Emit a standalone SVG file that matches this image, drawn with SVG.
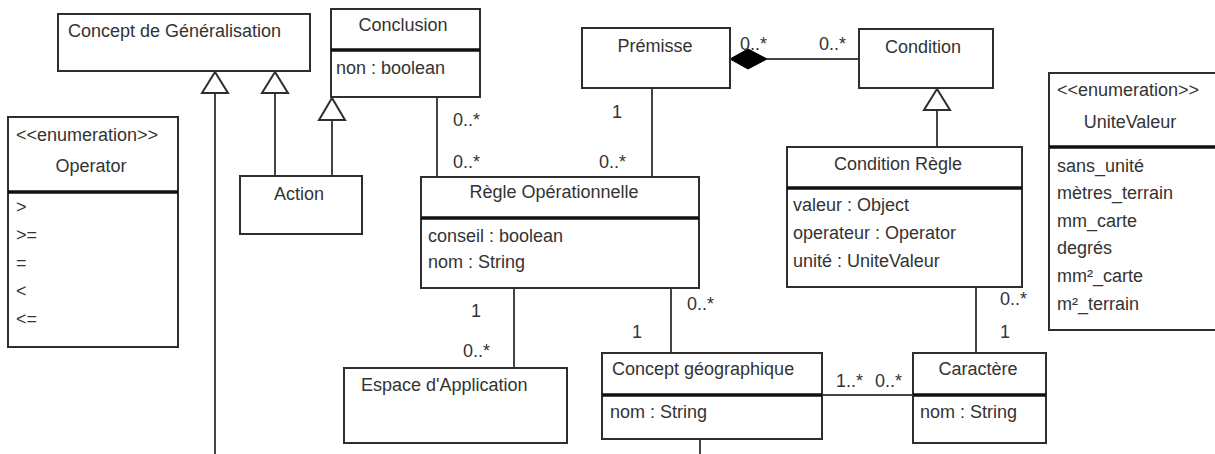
<svg xmlns="http://www.w3.org/2000/svg" width="1215" height="454" viewBox="0 0 1215 454">
<style>
.box{fill:#fff;stroke:#2e2e2e;stroke-width:2}
.div{stroke:#111;stroke-width:3.5}
.ln{stroke:#444;stroke-width:2;fill:none}
.tri{fill:#fff;stroke:#2e2e2e;stroke-width:2}
text{font-family:"Liberation Sans",Arial,sans-serif;font-size:18px;fill:#333}
.c{text-anchor:middle}
</style>
<rect width="1215" height="454" fill="#fff"/>
<g id="connectors">
  <line class="ln" x1="215" y1="93" x2="215" y2="454"/>
  <line class="ln" x1="275" y1="93" x2="275" y2="176"/>
  <line class="ln" x1="332" y1="120" x2="332" y2="176"/>
  <line class="ln" x1="437" y1="97" x2="437" y2="177"/>
  <line class="ln" x1="652" y1="88" x2="652" y2="177"/>
  <line class="ln" x1="767" y1="59" x2="859" y2="59"/>
  <line class="ln" x1="937" y1="110" x2="937" y2="147"/>
  <line class="ln" x1="514" y1="288" x2="514" y2="368"/>
  <line class="ln" x1="671" y1="288" x2="671" y2="353"/>
  <line class="ln" x1="976" y1="287" x2="976" y2="353"/>
  <line class="ln" x1="822" y1="395" x2="913" y2="395"/>
  <line class="ln" x1="700" y1="439" x2="700" y2="454"/>
  <polygon class="tri" points="215,72 202,93 228,93"/>
  <polygon class="tri" points="275,72 262,93 288,93"/>
  <polygon class="tri" points="332,98 319,120 345,120"/>
  <polygon class="tri" points="937,89 924,110 950,110"/>
  <polygon points="730,59 748,49 767,59 748,69" fill="#000" stroke="#000" stroke-width="1"/>
  <text x="453" y="126">0..*</text>
  <text x="453" y="168">0..*</text>
  <text x="612" y="118">1</text>
  <text x="599" y="168">0..*</text>
  <text x="740" y="50">0..*</text>
  <text x="819" y="50">0..*</text>
  <text x="471" y="317">1</text>
  <text x="463" y="357">0..*</text>
  <text x="687" y="310">0..*</text>
  <text x="632" y="338">1</text>
  <text x="1000" y="305">0..*</text>
  <text x="1000" y="338">1</text>
  <text x="836" y="387">1..*</text>
  <text x="875" y="387">0..*</text>
</g>
<g id="concept-generalisation">
  <rect class="box" x="58" y="14" width="252" height="57"/>
  <text x="68" y="37">Concept de Généralisation</text>
</g>
<g id="conclusion">
  <rect class="box" x="331" y="9" width="149" height="88"/>
  <line class="div" x1="331" y1="50" x2="480" y2="50"/>
  <text class="c" x="403" y="31">Conclusion</text>
  <text x="336" y="74">non : boolean</text>
</g>
<g id="action">
  <rect class="box" x="240" y="176" width="122" height="58"/>
  <text class="c" x="299" y="200">Action</text>
</g>
<g id="operator">
  <rect class="box" x="8" y="117" width="170" height="230"/>
  <line class="div" x1="8" y1="192" x2="178" y2="192"/>
  <text x="16" y="141">&lt;&lt;enumeration&gt;&gt;</text>
  <text class="c" x="91" y="172">Operator</text>
  <text x="16" y="213">&gt;</text>
  <text x="16" y="241">&gt;=</text>
  <text x="16" y="269">=</text>
  <text x="16" y="297">&lt;</text>
  <text x="16" y="325">&lt;=</text>
</g>
<g id="premisse">
  <rect class="box" x="582" y="28" width="148" height="60"/>
  <text class="c" x="655" y="52">Prémisse</text>
</g>
<g id="condition">
  <rect class="box" x="859" y="29" width="134" height="59"/>
  <text class="c" x="923" y="53">Condition</text>
</g>
<g id="condition-regle">
  <rect class="box" x="787" y="147" width="235" height="140"/>
  <line class="div" x1="787" y1="188" x2="1022" y2="188"/>
  <text class="c" x="898" y="170">Condition Règle</text>
  <text x="793" y="211">valeur : Object</text>
  <text x="793" y="239">operateur : Operator</text>
  <text x="793" y="267">unité : UniteValeur</text>
</g>
<g id="unite-valeur">
  <rect class="box" x="1049" y="73" width="170" height="257"/>
  <line class="div" x1="1049" y1="147" x2="1219" y2="147"/>
  <text x="1057" y="96">&lt;&lt;enumeration&gt;&gt;</text>
  <text class="c" x="1130" y="128">UniteValeur</text>
  <text x="1057" y="172">sans_unité</text>
  <text x="1057" y="199">mètres_terrain</text>
  <text x="1057" y="227">mm_carte</text>
  <text x="1057" y="254">degrés</text>
  <text x="1057" y="282">mm²_carte</text>
  <text x="1057" y="310">m²_terrain</text>
</g>
<g id="regle-operationnelle">
  <rect class="box" x="421" y="177" width="278" height="111"/>
  <line class="div" x1="421" y1="218" x2="699" y2="218"/>
  <text class="c" x="554" y="198">Règle Opérationnelle</text>
  <text x="428" y="242">conseil : boolean</text>
  <text x="428" y="268">nom : String</text>
</g>
<g id="espace-application">
  <rect class="box" x="344" y="368" width="223" height="75"/>
  <text x="361" y="391">Espace d'Application</text>
</g>
<g id="concept-geographique">
  <rect class="box" x="602" y="353" width="220" height="86"/>
  <line class="div" x1="602" y1="395" x2="822" y2="395"/>
  <text x="612" y="375">Concept géographique</text>
  <text x="610" y="418">nom : String</text>
</g>
<g id="caractere">
  <rect class="box" x="913" y="353" width="133" height="90"/>
  <line class="div" x1="913" y1="395" x2="1046" y2="395"/>
  <text class="c" x="978" y="375">Caractère</text>
  <text x="920" y="418">nom : String</text>
</g>
</svg>
